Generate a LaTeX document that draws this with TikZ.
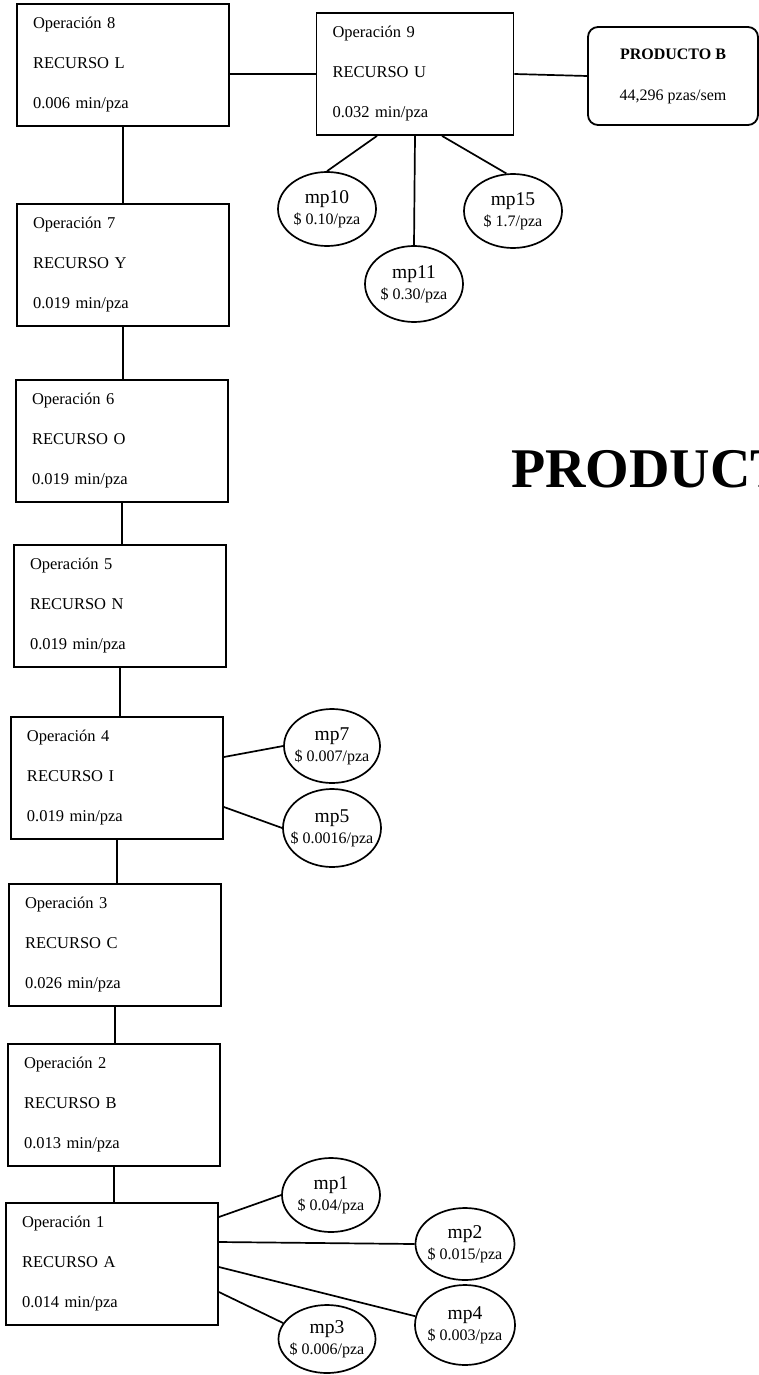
\documentclass[tikz,border=0pt]{standalone}
\usepackage{fontspec}
\setmainfont{Liberation Serif}
\usetikzlibrary{shapes.geometric}

\begin{document}
\begin{tikzpicture}[
    x=1pt, y=-1pt,
    opbox/.style={draw, line width=1.8pt, align=left, text width=180pt,
      inner xsep=16pt, inner ysep=0pt, minimum height=122pt,
      font=\fontsize{16.5}{40}\selectfont},
    prodbox/.style={draw, line width=1.8pt, rounded corners=10pt, align=center,
      minimum width=170pt, minimum height=98pt, font=\fontsize{16}{41}\selectfont},
    mpnode/.style={draw, ellipse, line width=1.7pt, inner sep=0pt, align=center,
      minimum width=98pt, minimum height=74pt, font=\fontsize{16}{21}\selectfont},
    link/.style={draw, line width=1.7pt},
  ]

  \useasboundingbox (0,0) rectangle (759,1375);

  % ---- column of operations
  \node[opbox] (op8) at (123,65)   {Operación 8\\RECURSO L\\0.006 min/pza};
  \node[opbox] (op7) at (123,265)  {Operación 7\\RECURSO Y\\0.019 min/pza};
  \node[opbox] (op6) at (122,441)  {Operación 6\\RECURSO O\\0.019 min/pza};
  \node[opbox] (op5) at (120,606)  {Operación 5\\RECURSO N\\0.019 min/pza};
  \node[opbox] (op4) at (117,778)  {Operación 4\\RECURSO I\\0.019 min/pza};
  \node[opbox] (op3) at (115,945)  {Operación 3\\RECURSO C\\0.026 min/pza};
  \node[opbox] (op2) at (114,1105) {Operación 2\\RECURSO B\\0.013 min/pza};
  \node[opbox] (op1) at (112,1264) {Operación 1\\RECURSO A\\0.014 min/pza};

  % ---- last operation and product
  \node[opbox, text width=165pt] (op9) at (415,74) {Operación 9\\RECURSO U\\0.032 min/pza};
  \node[prodbox] (prodB) at (673,76) {\textbf{PRODUCTO B}\\44,296 pzas/sem};

  \node[font=\fontsize{56}{60}\selectfont\bfseries, anchor=base west, inner sep=0pt]
    (titulo) at (511,487) {PRODUCT};

  % ---- raw materials
  \node[mpnode] (mp10) at (327,209)
    {\makebox[0pt]{\fontsize{19.5}{21}\selectfont mp10}\\\makebox[0pt]{\$ 0.10/pza}};
  \node[mpnode, minimum height=76pt] (mp11) at (414,284)
    {\makebox[0pt]{\fontsize{19.5}{21}\selectfont mp11}\\\makebox[0pt]{\$ 0.30/pza}};
  \node[mpnode] (mp15) at (513,211)
    {\makebox[0pt]{\fontsize{19.5}{21}\selectfont mp15}\\\makebox[0pt]{\$ 1.7/pza}};

  \node[mpnode, minimum width=96pt] (mp7) at (332,746)
    {\makebox[0pt]{\fontsize{19.5}{21}\selectfont mp7}\\\makebox[0pt]{\$ 0.007/pza}};
  \node[mpnode, minimum height=78pt] (mp5) at (332,828)
    {\makebox[0pt]{\fontsize{19.5}{21}\selectfont mp5}\\\makebox[0pt]{\$ 0.0016/pza}};

  \node[mpnode] (mp1) at (331,1195)
    {\makebox[0pt]{\fontsize{19.5}{21}\selectfont mp1}\\\makebox[0pt]{\$ 0.04/pza}};
  \node[mpnode, minimum width=99pt, minimum height=72pt] (mp2) at (465,1244)
    {\makebox[0pt]{\fontsize{19.5}{21}\selectfont mp2}\\\makebox[0pt]{\$ 0.015/pza}};
  \node[mpnode, minimum width=100pt, minimum height=80pt] (mp4) at (465,1325)
    {\makebox[0pt]{\fontsize{19.5}{21}\selectfont mp4}\\\makebox[0pt]{\$ 0.003/pza}};
  \node[mpnode, minimum width=97pt, minimum height=68pt] (mp3) at (327,1339)
    {\makebox[0pt]{\fontsize{19.5}{21}\selectfont mp3}\\\makebox[0pt]{\$ 0.006/pza}};

  % ---- links between operations
  \draw[link] (op8.south) -- (op8.south |- op7.north);
  \draw[link] (op7.south) -- (op7.south |- op6.north);
  \draw[link] (op6.south) -- (op6.south |- op5.north);
  \draw[link] (op5.south) -- (op5.south |- op4.north);
  \draw[link] (op4.south) -- (op4.south |- op3.north);
  \draw[link] (op3.south) -- (op3.south |- op2.north);
  \draw[link] (op2.south) -- (op2.south |- op1.north);
  \draw[link] (op8.east |- op9.west) -- (op9.west);
  \draw[link] (op9.east) -- (prodB.west);

  % ---- links to raw materials
  \draw[link] ([xshift=-38pt]op9.south) -- (mp10.north);
  \draw[link] (op9.south) -- (mp11.north);
  \draw[link] ([xshift=27pt]op9.south) -- (mp15.100);

  \draw[link] ([yshift=21pt]op4.east) -- (mp7.west);
  \draw[link] ([yshift=-29pt]op4.east) -- (mp5.west);

  \draw[link] ([yshift=47pt]op1.east) -- (mp1.west);
  \draw[link] ([yshift=22pt]op1.east) -- (mp2.west);
  \draw[link] ([yshift=-3pt]op1.east) -- (mp4.170);
  \draw[link] ([yshift=-28pt]op1.east) -- (mp3.160);
\end{tikzpicture}
\end{document}
